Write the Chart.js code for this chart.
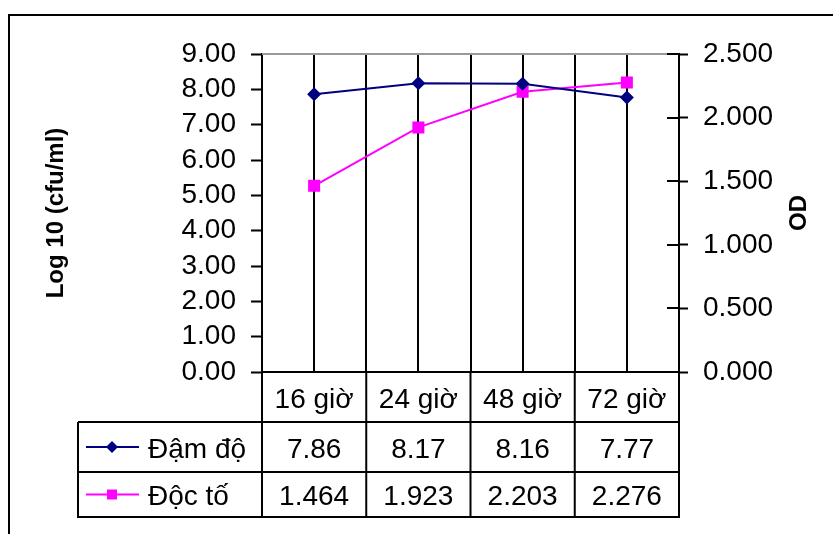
<!DOCTYPE html>
<html>
<head>
<meta charset="utf-8">
<script src="https://cdn.jsdelivr.net/npm/chart.js@4.4.1/dist/chart.umd.min.js"></script>
<style>
  body { margin: 0; background: #fff; }
  canvas { display: block; }
</style>
</head>
<body>
<canvas id="myChart" width="833" height="534"></canvas>
<script>
// values
const categories = ["16 giờ", "24 giờ", "48 giờ", "72 giờ"];
const seriesNames = ["Đậm độ", "Độc tố"];
const damDo = [7.86, 8.17, 8.16, 7.77];
const docTo = [1.464, 1.923, 2.203, 2.276];
const leftTitle = "Log 10 (cfu/ml)";
const rightTitle = "OD";

const FONT = "'Liberation Sans', Arial, sans-serif";
const NAVY = "#000080";
const MAGENTA = "#ff00ff";

//draws the outer frame, OD title, inner ticks and the data table under the plot
const tablePlugin = {
  id: "dataTable",
  beforeDraw(chart) {
    const ctx = chart.ctx;
    ctx.save();
    ctx.fillStyle = "#fff";
    ctx.fillRect(0, 0, chart.width, chart.height);
    ctx.strokeStyle = "#000";
    ctx.lineWidth = 2;
    ctx.strokeRect(9, 15, 900, 600);
    ctx.restore();
  },
  beforeDatasetsDraw(chart) {
    //gray top edge of the plot area
    const ctx = chart.ctx;
    const area = chart.chartArea;
    ctx.save();
    ctx.strokeStyle = "#999";
    ctx.lineWidth = 2;
    ctx.beginPath();
    ctx.moveTo(area.left, area.top);
    ctx.lineTo(area.right - 12, area.top);
    ctx.stroke();
    ctx.restore();
  },
  afterDraw(chart) {
    const ctx = chart.ctx;
    const area = chart.chartArea;
    const xs = chart.scales.x;
    const y2 = chart.scales.y2;
    ctx.save();

    //right axis ticks also cross into the plot
    ctx.strokeStyle = "#000";
    ctx.lineWidth = 2;
    y2.ticks.forEach((t) => {
      const y = Math.round(y2.getPixelForValue(t.value));
      ctx.beginPath();
      ctx.moveTo(area.right - 12, y);
      ctx.lineTo(area.right, y);
      ctx.stroke();
    });

    //OD title, reading bottom to top
    ctx.save();
    ctx.translate(799, (area.top + area.bottom) / 2);
    ctx.rotate(-Math.PI / 2);
    ctx.font = "bold 24px " + FONT;
    ctx.fillStyle = "#000";
    ctx.textAlign = "center";
    ctx.textBaseline = "middle";
    ctx.fillText(rightTitle, 0, 0);
    ctx.restore();

    //table geometry
    const half = (xs.getPixelForValue(1) - xs.getPixelForValue(0)) / 2;
    const edges = [];
    for (let i = 0; i < categories.length; i++) {
      edges.push(xs.getPixelForValue(i) - half);
    }
    edges.push(area.right);
    const legendLeft = 78;
    const rows = [area.bottom, 422, 472, 517];

    ctx.beginPath();
    for (let r = 1; r < rows.length; r++) {
      ctx.moveTo(legendLeft, rows[r]);
      ctx.lineTo(area.right + 1, rows[r]);
    }
    edges.forEach((x) => {
      ctx.moveTo(x, area.bottom);
      ctx.lineTo(x, rows[3] + 1);
    });
    ctx.moveTo(legendLeft, rows[1]);
    ctx.lineTo(legendLeft, rows[3] + 1);
    ctx.stroke();

    ctx.font = "28px " + FONT;
    ctx.fillStyle = "#000";
    ctx.textAlign = "center";
    ctx.textBaseline = "middle";
    categories.forEach((c, i) => {
      ctx.fillText(c, xs.getPixelForValue(i), (rows[0] + rows[1]) / 2 + 3);
    });

    const tableRows = [
      { name: seriesNames[0], data: damDo, digits: 2, color: NAVY, marker: "diamond" },
      { name: seriesNames[1], data: docTo, digits: 3, color: MAGENTA, marker: "square" },
    ];
    tableRows.forEach((row, r) => {
      const y = (rows[r + 1] + rows[r + 2]) / 2 + 3;
      ctx.textAlign = "center";
      ctx.fillStyle = "#000";
      row.data.forEach((v, i) => {
        ctx.fillText(v.toFixed(row.digits), xs.getPixelForValue(i), y);
      });
      //legend key
      const ly = y - 3;
      ctx.strokeStyle = row.color;
      ctx.lineWidth = 2;
      ctx.beginPath();
      ctx.moveTo(86, ly);
      ctx.lineTo(139, ly);
      ctx.stroke();
      ctx.fillStyle = row.color;
      if (row.marker == "diamond") {
        ctx.beginPath();
        ctx.moveTo(112, ly - 6);
        ctx.lineTo(118, ly);
        ctx.lineTo(112, ly + 6);
        ctx.lineTo(106, ly);
        ctx.closePath();
        ctx.fill();
      } else {
        ctx.fillRect(107, ly - 5, 10, 10);
      }
      ctx.fillStyle = "#000";
      ctx.textAlign = "left";
      ctx.fillText(row.name, 148, y);
    });

    ctx.restore();
  },
};

const ctx = document.getElementById("myChart").getContext("2d");

const data = {
  labels: categories,
  datasets: [
    {
      label: seriesNames[0],
      data: damDo,
      yAxisID: "y",
      borderColor: NAVY,
      backgroundColor: NAVY,
      borderWidth: 2,
      pointStyle: "rectRot",
      pointRadius: 7,
      pointBorderWidth: 0,
    },
    {
      label: seriesNames[1],
      data: docTo,
      yAxisID: "y2",
      borderColor: MAGENTA,
      backgroundColor: MAGENTA,
      borderWidth: 2,
      pointStyle: "rect",
      pointRadius: 8.5,
      pointBorderWidth: 0,
    },
  ],
};

const myChart = new Chart(ctx, {
  type: "line",
  data: data,
  plugins: [tablePlugin],
  options: {
    responsive: false,
    animation: false,
    devicePixelRatio: 1,
    layout: { padding: { left: 30, top: 54, right: 0, bottom: 0 } },
    plugins: {
      legend: { display: false },
      tooltip: { enabled: false },
    },
    scales: {
      x: {
        type: "category",
        position: "bottom",
        offset: true,
        grid: { offset: false, color: "#000", lineWidth: 2, drawTicks: false },
        border: { color: "#000", width: 2 },
        ticks: { display: false },
        afterFit: (scale) => { scale.height = 162; },
      },
      x2: {
        type: "category",
        position: "top",
        labels: categories,
        offset: true,
        grid: { offset: true, color: "#000", lineWidth: 2, drawTicks: false },
        border: { display: false },
        ticks: { display: false },
        afterFit: (scale) => { scale.height = 0; },
      },
      y: {
        position: "left",
        min: 0,
        max: 9,
        ticks: {
          stepSize: 1,
          autoSkip: false,
          color: "#000",
          padding: 15,
          font: { family: FONT, size: 28 },
          callback: (v) => Number(v).toFixed(2),
        },
        grid: { drawOnChartArea: false, color: "#000", tickLength: 11, tickWidth: 2 },
        border: { color: "#000", width: 2 },
        title: {
          display: true,
          text: leftTitle,
          color: "#000",
          font: { family: FONT, size: 24, weight: "bold" },
          padding: { top: 12, bottom: 0 },
        },
        afterFit: (scale) => { scale.width = 232; },
      },
      y2: {
        position: "right",
        min: 0,
        max: 2.5,
        ticks: {
          stepSize: 0.5,
          autoSkip: false,
          color: "#000",
          padding: 15,
          font: { family: FONT, size: 28 },
          callback: (v) => Number(v).toFixed(3),
        },
        grid: { drawOnChartArea: false, color: "#000", tickLength: 9, tickWidth: 2 },
        border: { color: "#000", width: 2 },
        afterFit: (scale) => { scale.width = 154; },
      },
    },
  },
});
</script>
</body>
</html>
